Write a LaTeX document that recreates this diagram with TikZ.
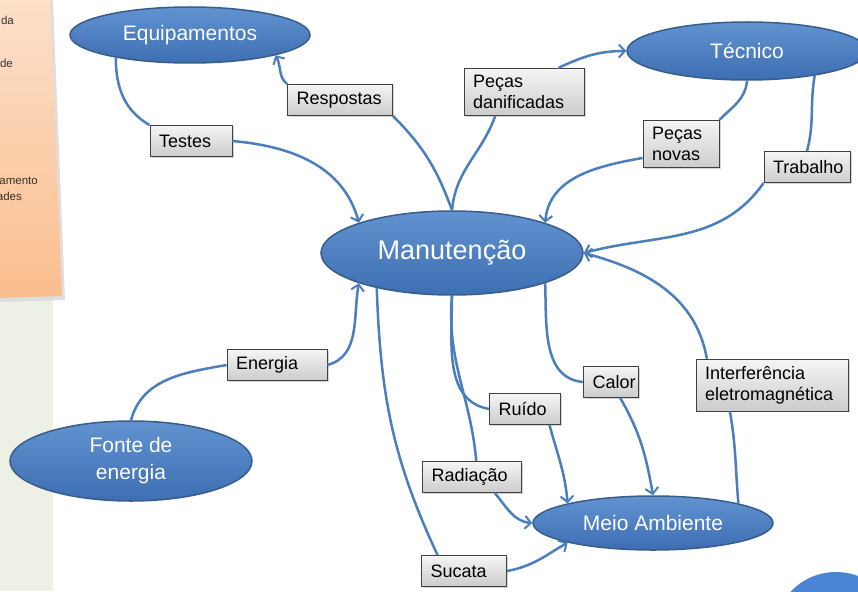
\documentclass[tikz,border=0pt]{standalone}
\usepackage{fontspec}
\setmainfont{Liberation Sans}
\usetikzlibrary{shapes.geometric,arrows.meta,shadows}
\definecolor{linkblue}{RGB}{74,126,188}
\definecolor{bubtop}{RGB}{98,147,208}
\definecolor{bubbot}{RGB}{60,110,178}
\definecolor{bubline}{RGB}{56,93,138}
\definecolor{panelgreen}{RGB}{237,240,228}
\definecolor{peachtop}{RGB}{252,224,202}
\definecolor{peachbot}{RGB}{250,190,142}
\definecolor{discblue}{RGB}{74,132,212}
\begin{document}
\begin{tikzpicture}[x=1pt,y=-1pt,
  bubble/.style={ellipse,draw=bubline,line width=1.5pt,top color=bubtop,bottom color=bubbot,
    text=white,inner sep=0pt,align=center,font=\fontsize{21}{27}\selectfont},
  tag/.style={rectangle,draw=black!75,line width=0.8pt,top color=white!96!black,bottom color=black!20,
    drop shadow={shadow xshift=1.5pt,shadow yshift=-1.5pt,opacity=0.35},
    text width=#1,align=left,inner xsep=9pt,inner ysep=7pt,minimum height=31pt,
    font=\fontsize{18}{21}\selectfont},
  scrap/.style={anchor=east,text=black!80,inner sep=0pt,font=\fontsize{11.5}{13}\selectfont},
  link/.style={linkblue,line width=2.5pt},
  arr/.style={link,-{Straight Barb[length=6pt,width=13pt,line width=2pt]}}]
\useasboundingbox (0,0) rectangle (858,591);
% side panel
\fill[panelgreen] (0,0) rectangle (53,591);
\fill[black!13] (0,0) -- (53,0) -- (65,300) -- (0,302) -- cycle;
\shade[top color=peachtop,bottom color=peachbot] (-2,-2) -- (50,-2) -- (62,296) -- (-2,298) -- cycle;
\foreach \t/\x/\y [count=\i] in {da/14/20,de/13/63,amento/38/181,ades/22/196}
  \node[scrap] (scrap\i) at (\x,\y) {\t};
\fill[discblue] (836,634) circle (62);

\node[bubble,minimum width=240pt,minimum height=56pt] (equip) at (190,35) {Equipamentos};
\node[bubble,minimum width=240pt,minimum height=58pt] (tec) at (747,51) {Técnico};
\node[bubble,minimum width=262pt,minimum height=84pt,font=\fontsize{27}{30}\selectfont] (manut) at (452,253) {Manutenção};
\node[bubble,minimum width=242pt,minimum height=80pt] (fonte) at (131,461) {Fonte de\\energia};
\node[bubble,minimum width=240pt,minimum height=54pt] (meio) at (653,523) {Meio Ambiente};

\node[tag=87pt] (resp) at (340,100) {Respostas};
\node[tag=64pt] (test) at (191,141) {Testes};
\node[tag=102pt] (danif) at (524,92) {Peças\\danificadas};
\node[tag=58pt] (novas) at (681,144) {Peças\\novas};
\node[tag=68pt] (trab) at (807,167) {Trabalho};
\node[tag=82pt] (ener) at (277,365) {Energia};
\node[tag=37pt] (calor) at (611,382) {Calor};
\node[tag=53pt] (ruido) at (525,409) {Ruído};
\node[tag=134pt] (interf) at (772,385) {Interferência\\eletromagnética};
\node[tag=81pt] (radia) at (472,477) {Radiação};
\node[tag=67pt] (sucata) at (464,571) {Sucata};

\draw[link] (equip.197) to[out=-90,in=150] (test.north west);
\draw[arr] (test.east) to[out=-5,in=105] (manut.north west);
\draw[link] (manut.north) to[out=110,in=-45] (resp.south east);
\draw[arr] (resp.north west) to[out=140,in=-60] (equip.south east);
\draw[link] (manut.north) to[out=85,in=-110] (danif.220);
\draw[arr] (danif.35) to[out=25,in=180] (tec.west);
\draw[link] (tec.south) to[out=-95,in=45] (novas.north east);
\draw[arr] (novas.200) to[out=190,in=85] (manut.north east);
\draw[link] (tec.-20) to[out=-100,in=75] (trab.north);
\draw[arr] (trab.south west) to[out=-125,in=15] (manut.east);
\draw[link] (fonte.north) to[out=75,in=190] (ener.west);
\draw[arr] (ener.east) to[out=15,in=-100] (manut.south west);
\draw[link] (manut.205) to[out=-88,in=115] (sucata.149);
\draw[arr] (sucata.east) to[out=10,in=-150] (meio.south west);
\draw[link] (manut.south) to[out=-95,in=95] (radia.75);
\draw[arr] (radia.-35) to[out=-50,in=175] (meio.west);
\draw[link] (manut.south) to[out=-90,in=170] (ruido.west);
\draw[arr] (ruido.-33) to[out=-75,in=95] (meio.north west);
\draw[link] (manut.south east) to[out=-88,in=175] (calor.west);
\draw[arr] (calor.-60) to[out=-60,in=100] (meio.north);
\draw[link] (meio.north east) to[out=95,in=-80] (interf.-148);
\draw[arr] (interf.158) to[out=100,in=-15] (manut.east);
\end{tikzpicture}
\end{document}
